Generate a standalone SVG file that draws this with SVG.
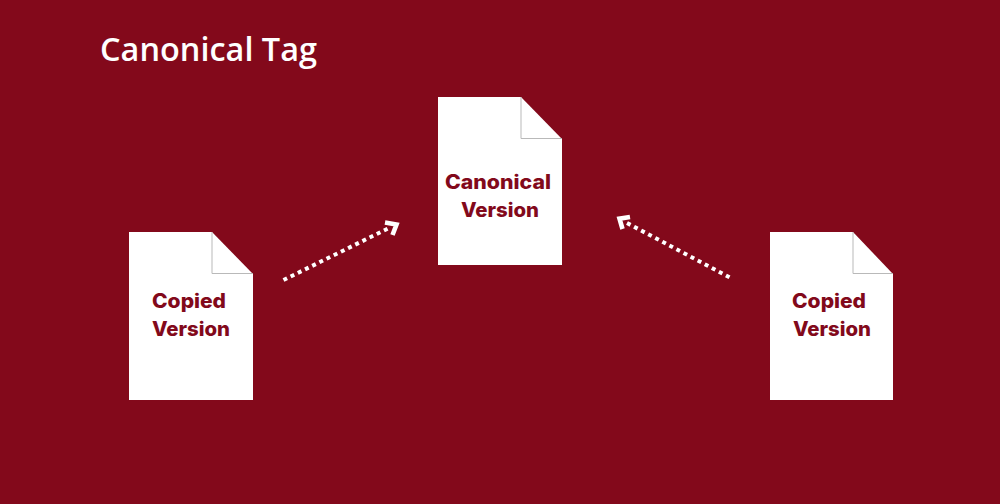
<svg xmlns="http://www.w3.org/2000/svg" width="1000" height="504" viewBox="0 0 1000 504">
<style>
.bg{fill:#83091b}
.title{font-family:"Open Sans","Noto Sans",sans-serif;font-size:32px;font-weight:600;fill:#fff}
.page{fill:#fff}
.fold{fill:none;stroke:#b9b9b9;stroke-width:1}
.label{font-family:"Inter","Liberation Sans",sans-serif;font-size:20px;font-weight:800;fill:#82091b;text-anchor:middle}
.dots{fill:none;stroke:#fff;stroke-width:4;stroke-dasharray:4 4}
.head{fill:none;stroke:#fff;stroke-width:4.6;stroke-linejoin:miter}
</style>
<rect class="bg" width="1000" height="504"/>
<text class="title" x="100" y="61" textLength="217" lengthAdjust="spacingAndGlyphs">Canonical Tag</text>
<g id="connectors">
<path class="dots" d="M283.5 280L388 228.5"/>
<path class="head" d="M385 222.5L396.5 224.5L392.5 235"/>
<path class="dots" d="M729.5 277.3L627 223"/>
<path class="head" d="M630 217L619.5 218.7L622.5 229"/>
</g>
<g id="canonical-version">
<path class="page" d="M438 97H521L562 139V265H438Z"/>
<path class="fold" d="M521 97V138.5H562"/>
<text class="label" x="498" y="189" textLength="106" lengthAdjust="spacingAndGlyphs">Canonical</text>
<text class="label" x="500" y="217" textLength="78" lengthAdjust="spacingAndGlyphs">Version</text>
</g>
<g id="copied-version-left">
<path class="page" d="M129 232H212L253 274V400H129Z"/>
<path class="fold" d="M212 232V273.5H253"/>
<text class="label" x="189" y="308" textLength="74" lengthAdjust="spacingAndGlyphs">Copied</text>
<text class="label" x="191" y="336" textLength="78" lengthAdjust="spacingAndGlyphs">Version</text>
</g>
<g id="copied-version-right">
<path class="page" d="M770 232H853L893 274V400H770Z"/>
<path class="fold" d="M853 232V273.5H893"/>
<text class="label" x="829" y="308" textLength="74" lengthAdjust="spacingAndGlyphs">Copied</text>
<text class="label" x="832" y="336" textLength="78" lengthAdjust="spacingAndGlyphs">Version</text>
</g>
</svg>
